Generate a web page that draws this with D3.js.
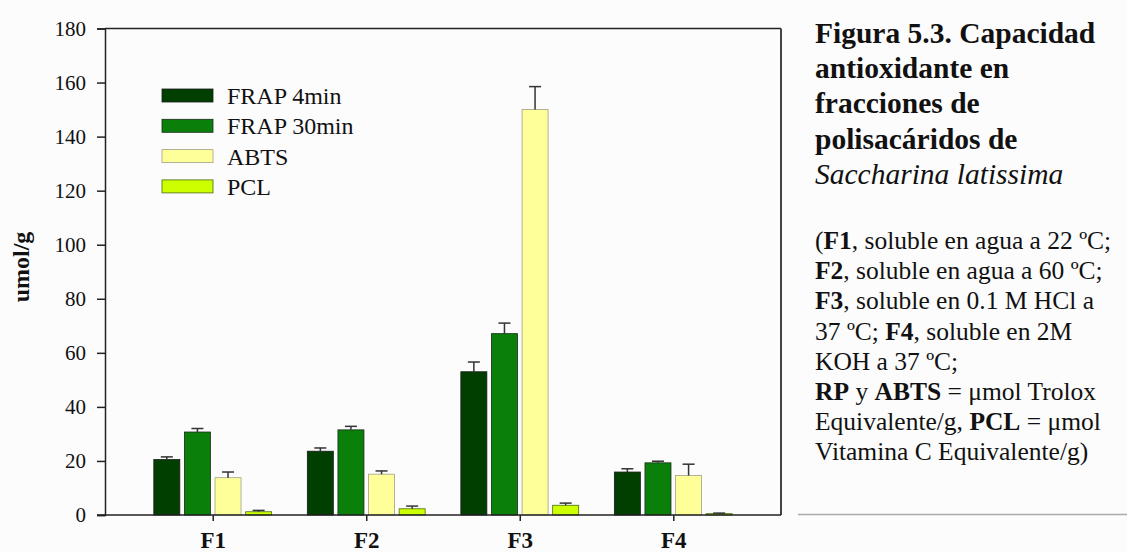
<!DOCTYPE html>
<html>
<head>
<meta charset="utf-8">
<script src="https://cdn.jsdelivr.net/npm/d3@7"></script>
<style>
  html, body { margin: 0; padding: 0; background: #fcfcfc; }
  svg { display: block; }
</style>
</head>
<body>
<svg id="chart" width="1127" height="552"></svg>
<script>
// Fractions and assay series
const categories = ["F1", "F2", "F3", "F4"];
const series = ["FRAP 4min", "FRAP 30min", "ABTS", "PCL"];
const frap4 = [20.5, 23.6, 53.0, 15.9];
const frap30 = [30.7, 31.5, 67.1, 19.3];
const abts = [13.8, 15.1, 150.0, 14.6];
const pcl = [1.2, 2.3, 3.6, 0.5];
// Standard deviations (drawn upward only)
const frap4Err = [1.0, 1.2, 3.6, 1.2];
const frap30Err = [1.3, 1.3, 3.9, 0.6];
const abtsErr = [2.1, 1.2, 8.5, 4.2];
const pclErr = [0.5, 1.0, 0.8, 0.2];
const yTicks = [0, 20, 40, 60, 80, 100, 120, 140, 160, 180];

const values = [frap4, frap30, abts, pcl];
const errors = [frap4Err, frap30Err, abtsErr, pclErr];
const fills = ["#003f00", "#0a800a", "#ffff99", "#ccff00"];
const strokes = ["#1a1a1a", "#1a2a1a", "#a0a08a", "#4a6a10"];

const svg = d3.select("#chart");
const plotLeft = 105, plotRight = 781, plotTop = 28.5, plotBottom = 515;

const x0 = d3.scaleBand().domain(categories).range([plotLeft, plotRight])
  .paddingInner(0.2026).paddingOuter(0.303);
const x1 = d3.scaleBand().domain(series).range([0, x0.bandwidth()])
  .paddingInner(0.15).paddingOuter(0.075);
const y = d3.scaleLinear().domain([0, 180]).range([plotBottom, plotTop]);

const serif = "'Liberation Serif', 'Times New Roman', serif";

// Bars
const rows = [];
categories.forEach((c, ci) => series.forEach((s, si) => {
  rows.push({ c, s, si, v: values[si][ci], e: errors[si][ci] });
}));

svg.append("g").selectAll("rect").data(rows).join("rect")
  .attr("x", d => x0(d.c) + x1(d.s))
  .attr("y", d => y(d.v))
  .attr("width", x1.bandwidth())
  .attr("height", d => y(0) - y(d.v))
  .attr("fill", d => fills[d.si])
  .attr("stroke", d => strokes[d.si])
  .attr("stroke-width", 0.8);

// Error bars
const capW = 12;
const eg = svg.append("g").attr("stroke", "#333").attr("stroke-width", 1.5);
rows.forEach(d => {
  const cx = x0(d.c) + x1(d.s) + x1.bandwidth() / 2;
  eg.append("line").attr("x1", cx).attr("x2", cx)
    .attr("y1", y(d.v)).attr("y2", y(d.v + d.e));
  eg.append("line").attr("x1", cx - capW / 2).attr("x2", cx + capW / 2)
    .attr("y1", y(d.v + d.e)).attr("y2", y(d.v + d.e));
});

// Frame (top and right)
svg.append("line").attr("x1", plotLeft).attr("x2", plotRight)
  .attr("y1", plotTop).attr("y2", plotTop)
  .attr("stroke", "#222").attr("stroke-width", 1.5);
svg.append("line").attr("x1", plotRight).attr("x2", plotRight)
  .attr("y1", plotTop).attr("y2", plotBottom)
  .attr("stroke", "#444").attr("stroke-width", 2);

// Y axis
const yAxis = d3.axisLeft(y).tickValues(yTicks).tickSize(8).tickPadding(11);
const gy = svg.append("g").attr("transform", `translate(${plotLeft},0)`).call(yAxis);
gy.attr("font-family", serif);
gy.select(".domain").attr("stroke", "#222").attr("stroke-width", 1.5);
gy.selectAll(".tick line").attr("stroke", "#222").attr("stroke-width", 1.5);
gy.selectAll(".tick text").attr("font-family", serif).attr("font-size", 21)
  .attr("fill", "#111");

// X axis
const xAxis = d3.axisBottom(d3.scalePoint().domain(categories)
  .range([x0("F1") + x0.bandwidth() / 2, x0("F4") + x0.bandwidth() / 2]))
  .tickSize(6).tickPadding(11).tickSizeOuter(0);
const gx = svg.append("g").attr("transform", `translate(0,${plotBottom})`).call(xAxis);
gx.attr("font-family", serif);
gx.select(".domain").remove();
svg.append("line").attr("x1", plotLeft - 8).attr("x2", plotRight)
  .attr("y1", plotBottom).attr("y2", plotBottom)
  .attr("stroke", "#222").attr("stroke-width", 1.5);
gx.selectAll(".tick line").attr("stroke", "#222").attr("stroke-width", 1.5);
gx.selectAll(".tick text").attr("font-family", serif).attr("font-size", 23)
  .attr("font-weight", "bold").attr("fill", "#111");

// Y axis title
svg.append("text")
  .attr("transform", `translate(29,267) rotate(-90)`)
  .attr("text-anchor", "middle")
  .attr("font-family", serif).attr("font-size", 24).attr("font-weight", "bold")
  .attr("fill", "#111")
  .text("umol/g");

// Legend
const lg = svg.append("g");
series.forEach((s, i) => {
  const ly = 89 + i * 30.3;
  lg.append("rect").attr("x", 162).attr("y", ly).attr("width", 51).attr("height", 13)
    .attr("fill", fills[i]).attr("stroke", strokes[i]).attr("stroke-width", 0.8);
  lg.append("text").attr("x", 227).attr("y", ly + 15)
    .attr("font-family", serif).attr("font-size", 24).attr("fill", "#111")
    .text(s);
});

// Caption
const titleLines = [
  [{ t: "Figura 5.3. Capacidad", b: true }],
  [{ t: "antioxidante en", b: true }],
  [{ t: "fracciones de", b: true }],
  [{ t: "polisacáridos de", b: true }],
  [{ t: "Saccharina latissima", i: true }]
];
const noteLines = [
  [{ t: "(" }, { t: "F1", b: true }, { t: ", soluble en agua a 22 ºC;" }],
  [{ t: "F2", b: true }, { t: ", soluble en agua a 60 ºC;" }],
  [{ t: "F3", b: true }, { t: ", soluble en 0.1 M HCl a" }],
  [{ t: "37 ºC; " }, { t: "F4", b: true }, { t: ", soluble en 2M" }],
  [{ t: "KOH a 37 ºC;" }],
  [{ t: "RP", b: true }, { t: " y " }, { t: "ABTS", b: true }, { t: " = μmol Trolox" }],
  [{ t: "Equivalente/g, " }, { t: "PCL", b: true }, { t: " = μmol" }],
  [{ t: "Vitamina C Equivalente/g)" }]
];

function writeLines(lines, x, y0, dy, size) {
  lines.forEach((parts, li) => {
    const t = svg.append("text").attr("x", x).attr("y", y0 + li * dy)
      .attr("font-family", serif).attr("font-size", size).attr("fill", "#111")
      .attr("xml:space", "preserve");
    parts.forEach(p => {
      t.append("tspan")
        .attr("font-weight", p.b ? "bold" : "normal")
        .attr("font-style", p.i ? "italic" : "normal")
        .text(p.t);
    });
  });
}
writeLines(titleLines, 815, 43, 35.2, 29.5);
writeLines(noteLines, 815, 249, 30.2, 25.5);

// Rule under the caption
svg.append("line").attr("x1", 798).attr("x2", 1127).attr("y1", 514.5).attr("y2", 514.5)
  .attr("stroke", "#aaa").attr("stroke-width", 1.5);
</script>
</body>
</html>
